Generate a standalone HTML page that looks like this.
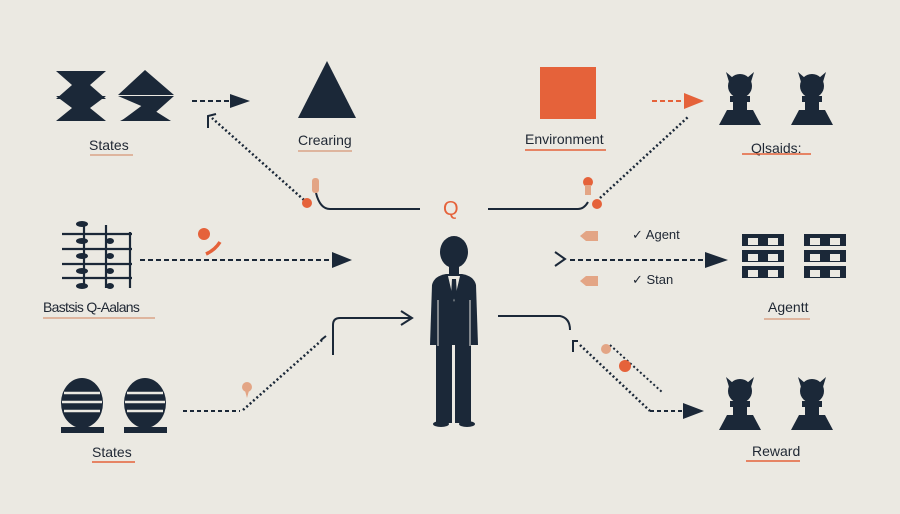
<!DOCTYPE html>
<html><head><meta charset="utf-8"><style>
html,body{margin:0;padding:0;background:#ebe9e2;}
svg{display:block}
text{font-family:"Liberation Sans",sans-serif;fill:#1f2733;font-size:14px}
</style></head><body>
<svg width="900" height="514" viewBox="0 0 900 514" xmlns="http://www.w3.org/2000/svg">
<rect width="900" height="514" fill="#ebe9e2"/>
<g fill="#1b2838">
<polygon points="56,71 106,71 90,85 106,99 56,99 72,85"/>
<polygon points="56,96 106,96 90,108 106,121 56,121 72,108"/>
<polygon points="118,95 145,70 174,95"/>
<polygon points="118,96 174,96 146,121 172,121 120,121 146,108"/>
<polygon points="121,121 144,104 171,121"/>
<polygon points="327,61 298,118 356,118"/>
<g stroke="#1b2838" stroke-width="2.2" fill="none">
<line x1="62" y1="234" x2="132" y2="234"/><line x1="62" y1="249" x2="132" y2="249"/>
<line x1="62" y1="264" x2="132" y2="264"/><line x1="62" y1="278" x2="132" y2="278"/>
<line x1="84" y1="225" x2="84" y2="288"/><line x1="106" y1="225" x2="106" y2="288"/><line x1="130" y1="232" x2="130" y2="288"/>
</g>
<ellipse cx="82" cy="224" rx="6" ry="3"/><ellipse cx="82" cy="241" rx="6" ry="3"/><ellipse cx="82" cy="256" rx="6" ry="3"/><ellipse cx="82" cy="271" rx="6" ry="3"/><ellipse cx="82" cy="286" rx="6" ry="3"/>
<ellipse cx="110" cy="241" rx="4" ry="3"/><ellipse cx="110" cy="256" rx="4" ry="3"/><ellipse cx="110" cy="271" rx="4" ry="3"/><ellipse cx="110" cy="286" rx="4" ry="3"/>
<g>
<ellipse cx="82" cy="403" rx="21" ry="25"/><rect x="61" y="427" width="43" height="6"/>
<ellipse cx="145" cy="403" rx="21" ry="25"/><rect x="124" y="427" width="43" height="6"/>
</g>
<g stroke="#ebe9e2" stroke-width="2.5">
<line x1="64" y1="393" x2="100" y2="393"/><line x1="62" y1="402" x2="102" y2="402"/><line x1="64" y1="411" x2="100" y2="411"/>
<line x1="127" y1="393" x2="163" y2="393"/><line x1="125" y1="402" x2="165" y2="402"/><line x1="127" y1="411" x2="163" y2="411"/>
</g>
<g id="p"><circle cx="740" cy="86" r="12"/><polygon points="726,72 733,78 729,82"/><polygon points="754,72 747,78 751,82"/><rect x="730" y="96" width="20" height="6"/><rect x="733" y="102" width="14" height="8"/><polygon points="719,125 727,110 753,110 761,125"/></g>
<use href="#p" x="72"/>
<use href="#p" x="0" y="305"/>
<use href="#p" x="72" y="305"/>
<g id="s"><rect x="742" y="234" width="42" height="12"/><rect x="742" y="250" width="42" height="12"/><rect x="742" y="266" width="42" height="12"/></g>
<use href="#s" x="62"/>
<g fill="#ebe9e2"><rect x="748" y="238" width="10" height="7"/><rect x="768" y="238" width="10" height="7"/><rect x="748" y="254" width="10" height="7"/><rect x="768" y="254" width="10" height="7"/><rect x="748" y="270" width="10" height="7"/><rect x="768" y="270" width="10" height="7"/>
<rect x="810" y="238" width="10" height="7"/><rect x="830" y="238" width="10" height="7"/><rect x="810" y="254" width="10" height="7"/><rect x="830" y="254" width="10" height="7"/><rect x="810" y="270" width="10" height="7"/><rect x="830" y="270" width="10" height="7"/></g>
<ellipse cx="454" cy="252" rx="14" ry="16"/>
<rect x="449" y="264" width="10" height="12"/>
<path d="M432,285 Q434,276 446,274 L462,274 Q474,276 476,285 L478,345 L430,345 Z"/>
<rect x="436" y="343" width="16" height="80"/><rect x="455" y="343" width="16" height="80"/>
<ellipse cx="441" cy="424" rx="8" ry="3"/><ellipse cx="467" cy="424" rx="8" ry="3"/>
</g>
<polygon points="448,276 460,276 454,302" fill="#ebe9e2"/>
<polygon points="452,279 456,279 457,296 454,300 451,296" fill="#1b2838"/>
<line x1="438" y1="300" x2="438" y2="346" stroke="#ebe9e2" stroke-width="1"/><line x1="470" y1="300" x2="470" y2="346" stroke="#ebe9e2" stroke-width="1"/>
<rect x="540" y="67" width="56" height="52" fill="#e5623a"/>
<g stroke="#1b2838" stroke-width="2" fill="none">
<line x1="192" y1="101" x2="232" y2="101" stroke-dasharray="5,3"/>
<line x1="304" y1="200" x2="212" y2="118" stroke-dasharray="2,2.5" stroke-width="2.5"/>
<path d="M316,193 Q320,209 330,209 L420,209"/>
<path d="M488,209 L578,209 Q584,209 588,202"/>
<line x1="600" y1="198" x2="688" y2="117" stroke-dasharray="2,2.5" stroke-width="2.5"/>
<line x1="140" y1="260" x2="333" y2="260" stroke-dasharray="5,3"/>
<line x1="570" y1="260" x2="705" y2="260" stroke-dasharray="5,3"/>
<path d="M555,252 L565,259 L555,266"/>
<line x1="183" y1="411" x2="240" y2="411" stroke-dasharray="4,3"/>
<line x1="243" y1="410" x2="322" y2="340" stroke-dasharray="2,2.5" stroke-width="2.5"/>
<path d="M333,355 L333,325 Q333,318 340,318 L410,318"/>
<path d="M401,311 L412,318 L401,325"/>
<path d="M498,316 L560,316 Q570,318 570,330"/>
<line x1="580" y1="345" x2="650" y2="411" stroke-dasharray="2,2.5" stroke-width="2.5"/>
<line x1="650" y1="411" x2="685" y2="411" stroke-dasharray="4,3"/>
<line x1="610" y1="345" x2="662" y2="392" stroke-dasharray="2,2.5" stroke-width="2"/>
<path d="M208,128 L208,116 L216,114"/>
<path d="M326,336 L321,340 M573,352 L573,341 L578,341"/>
</g>
<g fill="#1b2838">
<polygon points="230,94 250,101 230,108"/>
<polygon points="332,252 352,260 332,268"/>
<polygon points="705,252 728,260 705,268"/>
<polygon points="683,403 704,411 683,419"/>
</g>
<line x1="652" y1="101" x2="686" y2="101" stroke="#e5623a" stroke-width="2" stroke-dasharray="5,3"/>
<polygon points="684,93 704,101 684,109" fill="#e5623a"/>
<g fill="#e5623a">
<circle cx="307" cy="203" r="5"/><circle cx="597" cy="204" r="5"/><circle cx="204" cy="234" r="6"/>
<circle cx="588" cy="182" r="5"/><circle cx="625" cy="366" r="6"/>
</g>
<path d="M206,254 Q215,250 220,242" stroke="#e5623a" stroke-width="3.5" fill="none"/>
<g fill="#e3a585">
<rect x="312" y="178" width="7" height="15" rx="3"/><rect x="585" y="185" width="6" height="10"/>
<polygon points="586,231 598,231 598,241 586,241 580,236"/><polygon points="586,276 598,276 598,286 586,286 580,281"/>
<circle cx="606" cy="349" r="5"/><circle cx="247" cy="387" r="5"/><polygon points="244,387 250,387 247,398"/>
</g>
<text x="443" y="215" font-size="20" style="fill:#e5623a;font-size:20px">Q</text>
<text x="89" y="150">States</text>
<text x="298" y="145">Crearing</text>
<text x="525" y="144">Environment</text>
<text x="751" y="153">Qlsaids:</text>
<text x="43" y="312" style="letter-spacing:-0.7px">Bastsis Q-Aalans</text>
<text x="632" y="239" style="font-size:13px">✓ Agent</text>
<text x="632" y="284" style="font-size:13px">✓ Stan</text>
<text x="768" y="312">Agentt</text>
<text x="92" y="457">States</text>
<text x="752" y="456">Reward</text>
<g stroke-width="1.5">
<line x1="90" y1="155" x2="133" y2="155" stroke="#d9a488"/>
<line x1="298" y1="151" x2="352" y2="151" stroke="#d9a488"/>
<line x1="525" y1="150" x2="606" y2="150" stroke="#e5623a"/>
<line x1="742" y1="154" x2="811" y2="154" stroke="#e5623a"/>
<line x1="43" y1="318" x2="155" y2="318" stroke="#d9a488"/>
<line x1="764" y1="319" x2="810" y2="319" stroke="#d9a488"/>
<line x1="92" y1="462" x2="135" y2="462" stroke="#e5623a"/>
<line x1="746" y1="461" x2="800" y2="461" stroke="#e5623a"/>
</g>
</svg>
</body></html>
